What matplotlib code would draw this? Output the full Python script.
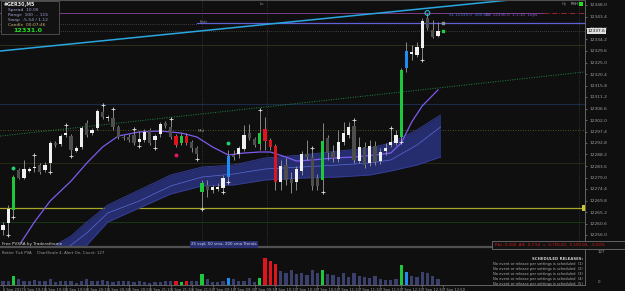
import numpy as np
import matplotlib.pyplot as plt
from matplotlib.patches import Rectangle

# OHLC of the M5 candles (price units)
opens = [12258.0, 12260.8, 12266.0, 12282.0, 12278.8, 12281.6, 12282.8, 12284.0, 12282.0, 12284.8,
         12292.8, 12292.4, 12296.0, 12295.6, 12289.6, 12291.2, 12300.8, 12296.8, 12298.8, 12305.2,
         12302.8, 12302.8, 12299.2, 12295.2, 12295.2, 12296.0, 12293.2, 12294.0, 12298.0, 12294.0,
         12296.4, 12300.8, 12299.2, 12295.6, 12292.8, 12295.6, 12293.2, 12290.8, 12273.2, 12276.0,
         12274.0, 12274.4, 12274.8, 12279.2, 12288.0, 12288.4, 12290.4, 12296.8, 12294.4, 12292.4,
         12298.4, 12294.0, 12291.6, 12277.2, 12284.0, 12278.4, 12277.2, 12281.6, 12288.4, 12287.2,
         12278.8, 12278.0, 12294.8, 12289.2, 12286.4, 12293.2, 12296.0, 12299.6, 12285.6, 12291.2,
         12284.8, 12291.6, 12285.6, 12289.6, 12292.0, 12292.8, 12295.2, 12322.8, 12328.4, 12328.0,
         12330.8, 12342.8, 12338.0, 12335.6]
highs = [12261.2, 12268.0, 12280.0, 12282.8, 12286.0, 12283.2, 12287.2, 12284.8, 12285.2, 12293.6,
         12293.6, 12296.4, 12299.2, 12296.4, 12291.6, 12299.6, 12302.0, 12298.8, 12306.4, 12307.2,
         12304.0, 12305.6, 12300.0, 12296.0, 12296.4, 12297.6, 12297.6, 12298.4, 12298.8, 12296.4,
         12301.2, 12301.6, 12301.6, 12296.4, 12296.8, 12296.8, 12294.0, 12291.6, 12278.0, 12278.0,
         12276.0, 12276.8, 12280.0, 12290.0, 12290.0, 12291.6, 12300.0, 12300.4, 12295.2, 12305.2,
         12303.2, 12294.8, 12292.4, 12286.0, 12286.8, 12281.2, 12283.6, 12289.6, 12294.0, 12290.0,
         12280.4, 12300.8, 12296.0, 12292.0, 12298.0, 12301.2, 12301.2, 12301.2, 12295.2, 12293.2,
         12294.0, 12293.6, 12290.8, 12292.8, 12298.0, 12298.0, 12322.8, 12333.2, 12332.0, 12333.2,
         12342.8, 12344.8, 12342.0, 12341.2]
lows = [12256.0, 12256.8, 12264.0, 12278.4, 12278.4, 12281.2, 12281.2, 12280.4, 12281.2, 12282.0,
        12291.2, 12291.6, 12295.2, 12288.4, 12289.2, 12290.4, 12295.2, 12296.0, 12298.0, 12302.4,
        12301.6, 12298.0, 12294.4, 12294.0, 12293.2, 12292.0, 12292.4, 12293.2, 12292.0, 12291.6,
        12295.2, 12298.8, 12294.4, 12291.2, 12292.0, 12292.0, 12289.2, 12287.2, 12267.2, 12271.2,
        12272.8, 12273.6, 12274.0, 12278.0, 12286.0, 12286.8, 12289.6, 12294.0, 12291.2, 12290.0,
        12290.0, 12290.0, 12274.0, 12274.0, 12276.0, 12272.8, 12274.0, 12280.0, 12286.0, 12274.0,
        12274.0, 12274.0, 12286.0, 12285.2, 12285.2, 12292.0, 12294.8, 12284.8, 12284.8, 12282.8,
        12283.6, 12284.0, 12284.4, 12288.0, 12291.2, 12292.0, 12294.0, 12321.2, 12326.0, 12327.2,
        12326.8, 12338.0, 12334.8, 12335.2]
closes = [12260.0, 12266.4, 12279.2, 12278.8, 12282.4, 12282.4, 12283.2, 12281.2, 12284.0, 12292.8,
          12292.0, 12295.6, 12296.8, 12290.0, 12290.8, 12298.8, 12296.0, 12298.0, 12305.6, 12303.2,
          12303.2, 12299.2, 12295.2, 12294.8, 12294.0, 12292.8, 12294.4, 12297.2, 12292.8, 12295.6,
          12300.4, 12299.6, 12295.2, 12292.0, 12295.6, 12292.8, 12290.8, 12288.4, 12276.8, 12274.0,
          12275.2, 12275.2, 12278.8, 12287.6, 12287.2, 12290.8, 12296.0, 12294.8, 12292.0, 12296.8,
          12293.6, 12291.2, 12277.2, 12283.6, 12278.0, 12276.8, 12282.4, 12288.4, 12287.2, 12275.6,
          12275.6, 12293.6, 12288.8, 12286.8, 12293.2, 12296.8, 12299.2, 12286.0, 12291.2, 12284.0,
          12291.6, 12285.2, 12289.2, 12290.8, 12293.2, 12296.0, 12322.0, 12329.6, 12329.2, 12331.2,
          12341.6, 12338.8, 12335.2, 12337.6]
# PVSRA candle class: w=up, d=down, g=climax up, r=climax down, b=rising vol up
kinds = ("w w g d w w w d w w d w w d w w d w w d w d d d d d w w d w w d d r g r d d g d "
         "w w w b d w w d d g r r r w d d w w d d d g d d w w w d w d w d w w w w g b w w w d d w").split()
# tick volume
volume = [130, 130, 280, 170, 130, 130, 150, 130, 130, 170, 100, 130, 120, 120, 70, 130, 170, 130,
          130, 150, 130, 100, 130, 120, 120, 100, 120, 80, 70, 80, 100, 120, 120, 120, 100, 130,
          120, 130, 330, 170, 100, 100, 130, 200, 170, 120, 120, 200, 100, 200, 820, 720, 620, 420,
          350, 450, 320, 370, 300, 450, 350, 450, 330, 300, 250, 350, 250, 370, 280, 250, 200, 270,
          170, 150, 150, 180, 600, 400, 280, 250, 400, 350, 270, 170]

# 25 ema (purple)
ma_idx = [3.5, 6, 9, 13, 16, 19, 22, 26, 30, 34, 37, 40, 43, 46, 49, 51, 54, 56, 59, 63, 67, 71, 74, 76, 78, 80, 83]
ma_val = [12253.2, 12261.2, 12269.6, 12277.6, 12284.8, 12291.2, 12295.6, 12297.2, 12297.6, 12296.8,
          12295.2, 12291.2, 12288.0, 12288.8, 12289.2, 12289.2, 12287.2, 12285.6, 12286.0, 12286.8,
          12287.2, 12288.0, 12288.8, 12292.8, 12301.2, 12307.6, 12314.0]
# 50/200 sma cloud
band_idx = [10, 13, 16, 20, 26, 32, 38, 44, 50, 57, 64, 70, 74, 79, 83.5]
band_up = [12252.0, 12255.6, 12261.2, 12268.0, 12274.0, 12280.0, 12283.2, 12284.0, 12286.8, 12288.0,
           12289.6, 12290.8, 12292.8, 12298.0, 12304.0]
band_mid = [12248.0, 12252.0, 12256.8, 12264.8, 12269.6, 12275.6, 12279.2, 12280.4, 12282.4, 12283.2,
            12284.0, 12284.8, 12286.0, 12292.0, 12299.2]
band_lo = [12244.0, 12247.6, 12252.0, 12261.2, 12266.8, 12272.4, 12275.6, 12276.0, 12278.0, 12278.8,
           12279.2, 12280.0, 12281.6, 12284.0, 12287.2]

frac_hi = [6, 12, 19, 21, 25, 32, 49, 59, 67, 74]
frac_lo = [1, 2, 9, 13, 26, 29, 37, 38, 42, 43, 61, 76, 80]

date_idx = list(range(0, 85, 4))
date_lbl = ["6 Sep 2017", "6 Sep 19:10", "6 Sep 19:30", "6 Sep 19:50", "6 Sep 20:10", "6 Sep 20:30",
            "6 Sep 20:50", "6 Sep 21:10", "6 Sep 21:30", "6 Sep 21:50", "7 Sep 09:10", "7 Sep 09:30",
            "7 Sep 09:50", "7 Sep 10:10", "7 Sep 10:30", "7 Sep 10:50", "7 Sep 11:10", "7 Sep 11:30",
            "7 Sep 11:50", "7 Sep 12:10", "7 Sep 12:30", "7 Sep 12:50"]

BG = "#0f0f0f"
W, H = 625, 291
col = {"w": "#f0f0f0", "d": "#4e4e4e", "g": "#1ec83c", "r": "#e0141e", "b": "#1e8cf0"}
vcol = {"w": "#3b3f6b", "d": "#3b3f6b", "g": "#1ec83c", "r": "#e0141e", "b": "#1e8cf0"}

fig = plt.figure(figsize=(W / 100, H / 100), dpi=100, facecolor=BG)


def fx(x, y):
    return x / W, 1 - y / H


def ftxt(x, y, s, **kw):
    kw.setdefault("va", "center")
    kw.setdefault("fontsize", 3.2)
    fig.text(*fx(x, y), s, **kw)


XL = (-0.57, 111.07)
ax = fig.add_axes([0, 1 - 247 / H, 585 / W, 247 / H], facecolor=BG)
ax.set_xlim(*XL)
ax.set_ylim(12251.2, 12350)
n = len(opens)
x = np.arange(n)
o, h, l, c = map(np.array, (opens, highs, lows, closes))

# cloud
ax.fill_between(band_idx, band_lo, band_up, color="#262d6e", lw=0, zorder=1)
ax.plot(band_idx, band_up, color="#363f98", lw=0.6, zorder=1)
ax.plot(band_idx, band_lo, color="#363f98", lw=0.6, zorder=1)
ax.plot(band_idx, band_mid, color="#5b6bd6", lw=0.5, zorder=1)

# levels
ax.axhline(12332.0, color="#33331c", lw=0.6, zorder=0)
ax.axhline(12308.4, color="#1c2a4c", lw=0.8, zorder=0)
ax.axhline(12298.0, color="#6a6a28", lw=0.6, ls=(0, (1, 2)), zorder=0)
ax.axhline(12284.8, color="#2e2e18", lw=0.6, zorder=0)
ax.axhline(12266.8, color="#a8a828", lw=0.9, zorder=0)
ax.axhline(12261.2, color="#163a16", lw=0.7, zorder=0)
ax.axhline(12337.6, color="#6a6a6a", lw=0.5, ls=(0, (1, 2)), zorder=0)
ax.plot([XL[0], 103], [12344.8, 12344.8], color="#7a3f8a", lw=0.7, zorder=0)
ax.plot([103, XL[1]], [12344.8, 12344.8], color="#b02a3a", lw=0.6, ls="-.", zorder=0)
ax.plot([XL[0], 37], [12340.4, 12340.4], color="#6a6a6a", lw=0.5, ls=(0, (1, 2)), zorder=0)
ax.plot([37, XL[1]], [12340.8, 12340.8], color="#6060d8", lw=0.9, zorder=0)
for v in (38, 50.4, 110):
    ax.axvline(v, color="#4a4a4a", lw=0.5, ls=(0, (1, 2)), zorder=0)
ax.axline((0, 12329.7), (100, 12350.7), color="#2aa6e0", lw=1.1, zorder=2)
ax.axline((0, 12295.7), (100, 12318.7), color="#1e8a46", lw=0.7, ls=(0, (1, 1.5)), zorder=2)

# 25 ema
ax.plot(ma_idx, ma_val, color="#7e5af0", lw=0.9, zorder=2)

# candles
ax.vlines(x, l, h, color="#9a9a9a", lw=0.6, zorder=3)
body = np.maximum(np.abs(c - o), 0.4)
ax.bar(x, body, bottom=np.minimum(o, c), width=0.62, color=[col[k] for k in kinds], lw=0, zorder=4)

# fractals / signals
ax.scatter(np.array(frac_hi), h[frac_hi] + 0.9, marker="+", s=5, color="#e0e0e0", lw=0.6, zorder=5)
ax.scatter(np.array(frac_lo), l[frac_lo] - 0.9, marker="+", s=5, color="#e0e0e0", lw=0.6, zorder=5)
ax.scatter([2, 43], [12282.8, 12292.8], s=8, color="#20d070", lw=0, zorder=5)
ax.scatter([33], [12288.0], s=8, color="#e0186a", lw=0, zorder=5)
ax.scatter([81], [12344.8], s=12, facecolor="none", edgecolor="#30c8e8", lw=0.7, zorder=5)
ax.scatter([84], [12340.8], s=3, marker="s", color="#909090", zorder=5)
ax.scatter([84], [12337.6], s=3, marker="s", color="#20d040", zorder=5)

ticks = [12348.0 - 4.6 * k for k in range(21)]
ax.set_yticks(ticks)
ax.set_yticklabels([f"{t:.1f}" for t in ticks])
ax.yaxis.tick_right()
ax.tick_params(axis="y", colors="#a0a0a0", labelsize=3.2, length=1.5, width=0.4, pad=1.5)
ax.set_xticks([])
ax.spines["left"].set_visible(False)
ax.spines["right"].set_color("#707070")
ax.spines["right"].set_linewidth(0.6)
ax.spines["top"].set_color("#505050")
ax.spines["bottom"].set_color("#505050")
ax.spines["bottom"].set_linewidth(1.6)

# current price tag and level tag on axis
ax.text(1.005, 12337.6, "12337.6", transform=ax.get_yaxis_transform(), fontsize=3.2, va="center",
        ha="left", color="#101010", bbox=dict(boxstyle="square,pad=0.15", fc="#e0e0e0", ec="none"))
ax.text(0.999, 12266.8, " ", transform=ax.get_yaxis_transform(), fontsize=3, va="center", ha="right",
        bbox=dict(boxstyle="square,pad=0.2", fc="#c8c830", ec="none"))

# volume panel
vax = fig.add_axes([0, 6 / H, 585 / W, 36 / H], facecolor=BG)
vax.set_xlim(*XL)
vax.set_ylim(0, 1080)
vax.bar(x, volume, width=0.62, color=[vcol[k] for k in kinds], lw=0)
vax.set_yticks([])
vax.set_xticks(date_idx)
vax.set_xticklabels(date_lbl)
for lab in vax.get_xticklabels():
    lab.set_ha("left")
vax.tick_params(axis="x", colors="#a0a0a0", labelsize=2.6, length=1.2, width=0.4, pad=0.6)
for s in ("left", "top"):
    vax.spines[s].set_visible(False)
vax.spines["right"].set_color("#707070")
vax.spines["right"].set_linewidth(0.6)
vax.spines["bottom"].set_color("#707070")
vax.spines["bottom"].set_linewidth(0.6)

# info box
fig.patches.append(Rectangle(fx(1, 34), 58 / W, 33 / H, transform=fig.transFigure,
                             fc="#121212", ec="#555555", lw=0.6, zorder=5))
ftxt(4, 4.5, "#GER30,M5", color="#e8e8e8", fontsize=3.4, fontweight="bold", zorder=6)
ftxt(8, 10, "Spread  10.00", color="#a0a0d8", zorder=6)
ftxt(8, 15, "Range  100 ... 115", color="#a0a0d8", zorder=6)
ftxt(8, 20, "Swap  -5.54 / 1.12", color="#a0a0d8", zorder=6)
ftxt(8, 25, "Candle  00:07:46", color="#c8b070", zorder=6)
ftxt(13, 30.5, "12331.0", color="#22dd22", fontsize=4.6, fontweight="bold", zorder=6)
for i, ch in enumerate("PVSRA"):
    ftxt(49, 6.5 + i * 5.3, ch, color="#4a5ae8", fontsize=3.8, fontweight="bold", ha="center")

ftxt(200, 22, "Entr", color="#8a8a8a", fontsize=2.8)
ftxt(198, 131.5, "Mid", color="#8a8a8a", fontsize=2.8)
ftxt(260, 4, "Lo", color="#8a8a8a", fontsize=2.8)
ftxt(562, 4, "Hy", color="#8a8a8a", fontsize=2.8)
ftxt(571, 4, "PSH", color="#c0c0c0", fontsize=2.8)
fig.patches.append(Rectangle(fx(579, 6), 4 / W, 4 / H, transform=fig.transFigure, fc="#20e020", ec="none"))
ftxt(449, 15, "SL 12335.0  300.00", color="#4a6ad0", fontsize=3)
ftxt(486, 15, "BE 12336.0  1:1:10  1ops", color="#8a5acd", fontsize=3)

ftxt(2, 243.5, "Free PVSRA by Traderathome", color="#d8d8d8", fontsize=3)
ftxt(224, 244.5, "25 sspl, 50 sma, 200 sma Trends", color="#d0d0e8", fontsize=2.9, ha="center",
     bbox=dict(boxstyle="square,pad=0.25", fc="#2a3070", ec="none"))
fig.patches.append(Rectangle(fx(492, 249), 133 / W, 8 / H, transform=fig.transFigure,
                             fc="#121212", ec="#707070", lw=0.6))
ftxt(495, 245, "P&L: 0.100  A/E  0-7.50  =  0-750.00,  0-150.00,  -0.00%", color="#e01a1a", fontsize=2.8)

ftxt(2, 252.5, "Better Tick PVA    ChartScale 4, Alert On, Count: 127", color="#9a9a9a", fontsize=2.8)
ftxt(583, 259, "SCHEDULED RELEASES:", color="#c8c8c8", fontsize=2.8, fontweight="bold", ha="right")
for k in range(5):
    ftxt(583, 264 + k * 5, f"No event or release per settings is scheduled  ({k + 1})",
         color="#b0b0b0", fontsize=2.6, ha="right")
ftxt(598, 252, "127", color="#a0a0a0", fontsize=2.8)
ftxt(598, 282, "0", color="#a0a0a0", fontsize=2.8)

fig.savefig("out.png", dpi=100, facecolor=BG)
